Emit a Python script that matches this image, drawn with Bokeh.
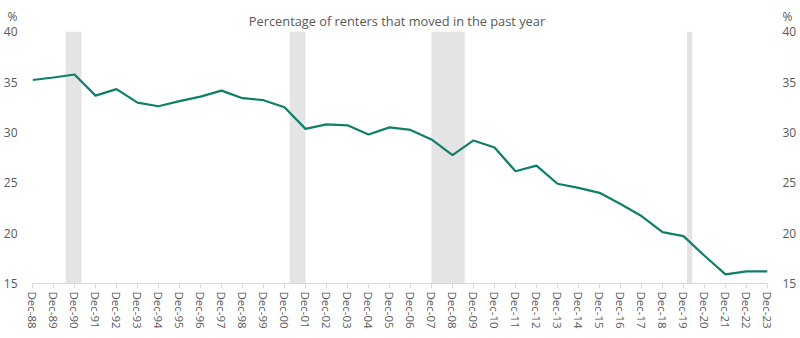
from bokeh.plotting import figure
from bokeh.models import FixedTicker, LinearAxis, Range1d, Label, BoxAnnotation
from bokeh.embed import file_html
from bokeh.resources import INLINE

years = list(range(1988, 2024))
tick_labels = ["Dec-%02d" % (y % 100) for y in years]
moved_pct = [35.2, 35.45, 35.75, 33.65, 34.3, 32.95, 32.6, 33.1, 33.55, 34.15,
             33.4, 33.2, 32.5, 30.35, 30.8, 30.7, 29.8, 30.5, 30.25, 29.3,
             27.75, 29.2, 28.5, 26.15, 26.7, 24.9, 24.5, 24.0, 22.9, 21.7,
             20.1, 19.7, 17.75, 15.9, 16.2, 16.2]
y_ticks = [15, 20, 25, 30, 35, 40]
y_min, y_max = 15, 40
# recessions: (start year, start month, end year, end month)
recessions = [(1990, 7, 1991, 3), (2001, 3, 2001, 11), (2007, 12, 2009, 6), (2020, 2, 2020, 4)]
title_text = "Percentage of renters that moved in the past year"

origin = 1988 + 11 / 12.0
x = [y + 11 / 12.0 - origin for y in years]

FONT = "Open Sans"
TXT = "#595959"

# frame extended above 40 to host the unit labels and the title
unit_pos = y_max + 1.5
p = figure(width=800, height=338, output_backend="svg", toolbar_location=None,
           x_range=Range1d(0, len(years) - 1), y_range=Range1d(y_min, y_max + 2.5),
           min_border_left=32, min_border_right=33, min_border_top=6, min_border_bottom=55,
           y_axis_location=None)
p.outline_line_color = None
p.grid.visible = False
p.background_fill_color = "white"
p.border_fill_color = "white"

for (sy, sm, ey, em) in recessions:
    p.add_layout(BoxAnnotation(left=sy + (sm - 1) / 12.0 - origin, right=ey + em / 12.0 - origin,
                               bottom=y_min, top=y_max,
                               fill_color="#e4e4e4", fill_alpha=1.0, line_color=None, level="underlay"))

p.line(x, moved_pct, line_color="#0e7f68", line_width=2.2)

xa = p.xaxis[0]
xa.ticker = FixedTicker(ticks=list(range(len(years))))
xa.major_label_overrides = {i: lab for i, lab in enumerate(tick_labels)}
xa.major_label_orientation = "vertical"
xa.axis_line_color = "#d9d9d9"
xa.major_tick_line_color = "#d9d9d9"
xa.major_tick_in = 0
xa.major_tick_out = 5
xa.minor_tick_line_color = None
xa.major_label_text_font = FONT
xa.major_label_text_font_size = "11.5px"
xa.major_label_text_color = TXT
xa.major_label_standoff = 3

for side in ("left", "right"):
    ax = LinearAxis(ticker=FixedTicker(ticks=y_ticks + [unit_pos]))
    ax.major_label_overrides = {unit_pos: "%"}
    ax.axis_line_color = None
    ax.major_tick_line_color = None
    ax.minor_tick_line_color = None
    ax.major_label_text_font = FONT
    ax.major_label_text_font_size = "12px"
    ax.major_label_text_color = TXT
    ax.major_label_standoff = 9
    p.add_layout(ax, side)

p.add_layout(Label(x=364.5, x_units="screen", y=y_max + 1.04, text=title_text,
                   text_font=FONT, text_font_size="12.8px", text_color=TXT,
                   text_align="center", text_baseline="alphabetic"))

open("out.html", "w").write(file_html(p, INLINE))
